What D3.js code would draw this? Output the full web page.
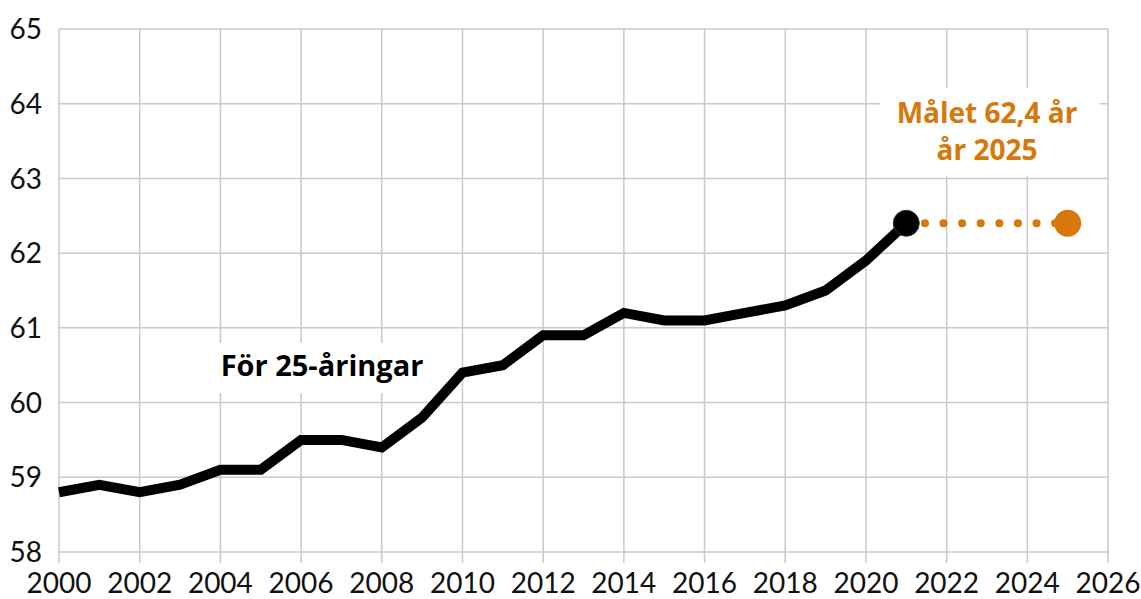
<!DOCTYPE html>
<html>
<head>
<meta charset="utf-8">
<script src="https://cdn.jsdelivr.net/npm/d3@7"></script>
<style>
  body { margin: 0; background: #fff; }
  svg { display: block; font-family: Lato, "Open Sans", sans-serif; }
</style>
</head>
<body>
<svg id="chart" width="1141" height="599"></svg>
<script>
var years = [2000, 2001, 2002, 2003, 2004, 2005, 2006, 2007, 2008, 2009, 2010,
             2011, 2012, 2013, 2014, 2015, 2016, 2017, 2018, 2019, 2020, 2021];
var ages = [58.8, 58.9, 58.8, 58.9, 59.1, 59.1, 59.5, 59.5, 59.4, 59.8, 60.4,
            60.5, 60.9, 60.9, 61.2, 61.1, 61.1, 61.2, 61.3, 61.5, 61.9, 62.4];
var targetYears = [2021, 2025];
var targetAges = [62.4, 62.4];
var xTicks = [2000, 2002, 2004, 2006, 2008, 2010, 2012, 2014, 2016, 2018, 2020, 2022, 2024, 2026];
var yTicks = [58, 59, 60, 61, 62, 63, 64, 65];
var lineLabel = "För 25-åringar";
var targetLabel = ["Målet 62,4 år", "år 2025"];

var orange = "#d6780b";
var gridColor = "#c9c9c9";

var margin = { left: 59, right: 33, top: 29, bottom: 47 };
var W = 1141, H = 599;

var svg = d3.select("#chart");

var x = d3.scaleLinear().domain([2000, 2026]).range([margin.left, W - margin.right]);
var y = d3.scaleLinear().domain([58, 65]).range([H - margin.bottom, margin.top]);

// grid
var grid = svg.append("g");
grid.selectAll(".vgrid")
    .data(xTicks)
    .enter()
    .append("line")
    .attr("x1", d => x(d)).attr("x2", d => x(d))
    .attr("y1", y(65)).attr("y2", y(58) + 11)
    .style("stroke", gridColor)
    .style("stroke-width", "1.5px");

grid.selectAll(".hgrid")
    .data(yTicks)
    .enter()
    .append("line")
    .attr("x1", x(2000)).attr("x2", x(2026))
    .attr("y1", d => y(d)).attr("y2", d => y(d))
    .style("stroke", gridColor)
    .style("stroke-width", "1.5px");

// tick labels
svg.selectAll(".xlab")
    .data(xTicks)
    .enter()
    .append("text")
    .attr("x", d => x(d))
    .attr("y", y(58) + 41)
    .attr("text-anchor", "middle")
    .style("font-size", "28px")
    .style("fill", "#111")
    .text(d => d);

svg.selectAll(".ylab")
    .data(yTicks)
    .enter()
    .append("text")
    .attr("x", 42)
    .attr("y", d => y(d))
    .attr("dy", "0.36em")
    .attr("text-anchor", "end")
    .style("font-size", "28px")
    .style("fill", "#111")
    .text(d => d);

// label boxes hide the grid behind the text
svg.append("rect")
    .attr("x", 210).attr("y", 343).attr("width", 222).attr("height", 50)
    .style("fill", "#fff");
svg.append("rect")
    .attr("x", 880).attr("y", 88).attr("width", 220).attr("height", 88)
    .style("fill", "#fff");

// target dotted line
svg.append("path")
    .datum(targetYears.map((d, i) => [d, targetAges[i]]))
    .attr("d", d3.line().x(d => x(d[0])).y(d => y(d[1])))
    .style("fill", "none")
    .style("stroke", orange)
    .style("stroke-width", "8px")
    .style("stroke-linecap", "round")
    .style("stroke-dasharray", "0.1 18.5");

// main line
svg.append("path")
    .datum(years.map((d, i) => [d, ages[i]]))
    .attr("d", d3.line().x(d => x(d[0])).y(d => y(d[1])))
    .style("fill", "none")
    .style("stroke", "#000")
    .style("stroke-width", "10px")
    .style("stroke-linejoin", "miter");

// end markers
svg.append("circle")
    .attr("cx", x(targetYears[1])).attr("cy", y(targetAges[1]))
    .attr("r", 13.5)
    .style("fill", orange);
svg.append("circle")
    .attr("cx", x(years[years.length - 1])).attr("cy", y(ages[ages.length - 1]))
    .attr("r", 13)
    .style("fill", "#000")
    .style("stroke", "#1f3550")
    .style("stroke-width", "1px");

// annotations
svg.append("text")
    .attr("x", 322).attr("y", 376)
    .attr("text-anchor", "middle")
    .style("font-family", "'Open Sans', sans-serif")
    .style("font-size", "29px")
    .style("font-weight", "bold")
    .style("fill", "#000")
    .text(lineLabel);

svg.selectAll(".tlab")
    .data(targetLabel)
    .enter()
    .append("text")
    .attr("x", 987)
    .attr("y", (d, i) => 123 + i * 37)
    .attr("text-anchor", "middle")
    .style("font-family", "'Open Sans', sans-serif")
    .style("font-size", "28px")
    .style("font-weight", "bold")
    .style("fill", orange)
    .text(d => d);
</script>
</body>
</html>
